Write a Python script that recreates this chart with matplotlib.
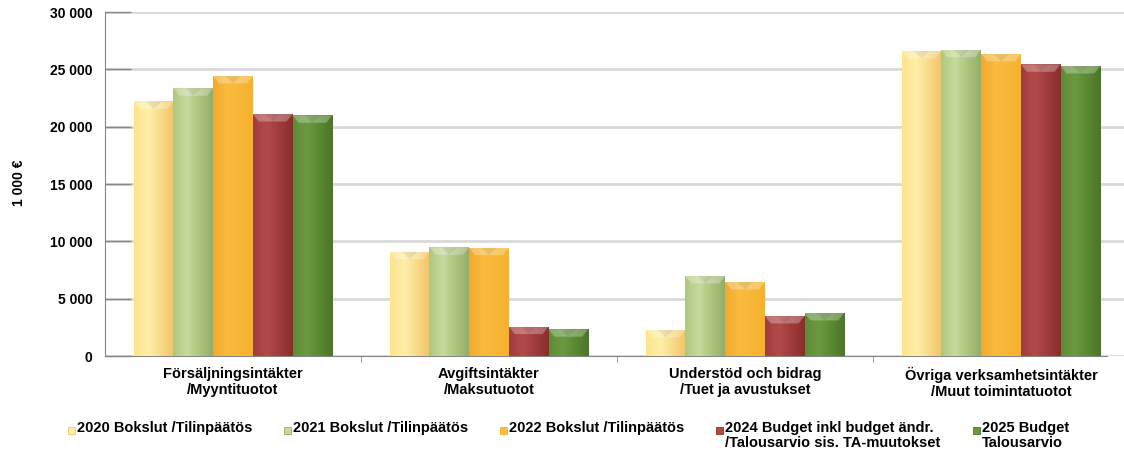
import numpy as np
import matplotlib.pyplot as plt
from matplotlib.patches import Rectangle, Polygon
from matplotlib.colors import LinearSegmentedColormap

plt.rcParams['font.family'] = ['Liberation Sans', 'DejaVu Sans']
plt.rcParams['font.weight'] = 'bold'

categories = ["Försäljningsintäkter\n/Myyntituotot",
              "Avgiftsintäkter\n/Maksutuotot",
              "Understöd och bidrag\n/Tuet ja avustukset",
              "Övriga verksamhetsintäkter\n/Muut toimintatuotot"]
series = ["2020 Bokslut /Tilinpäätös",
          "2021 Bokslut /Tilinpäätös",
          "2022 Bokslut /Tilinpäätös",
          "2024 Budget inkl budget ändr.\n/Talousarvio sis. TA-muutokset",
          "2025 Budget\nTalousarvio"]
v2020 = [22200, 9100, 2270, 26600]
v2021 = [23350, 9480, 6980, 26700]
v2022 = [24420, 9450, 6450, 26340]
v2024 = [21100, 2560, 3490, 25440]
v2025 = [20990, 2330, 3750, 25290]
values = [v2020, v2021, v2022, v2024, v2025]

# left / light / right colours of each bar gradient
shades = [("#FDE38C", "#FEF0A8", "#F3C46A"),
          ("#AFC87E", "#C6DA9C", "#93AE66"),
          ("#F2A831", "#F9BC3E", "#F7B12E"),
          ("#A23C3B", "#B24A48", "#8A2D2D"),
          ("#5E8C37", "#6A9A40", "#4A7626")]

W, H = 1124, 455
fig = plt.figure(figsize=(W / 100, H / 100), dpi=100)
ax = fig.add_axes([105 / W, 1 - 356 / H, (W - 105) / W, (356 - 12) / H])

x = np.arange(len(categories))
bw = 0.155
cap = 650
for i, vals in enumerate(values):
    left, mid, right = shades[i]
    cmap = LinearSegmentedColormap.from_list("g%d" % i, [(0, left), (0.35, mid), (1, right)])
    img = cmap(np.linspace(0, 1, 64))[None, :, :]
    bars = ax.bar(x + (i - 2) * bw, vals, bw, facecolor=mid, edgecolor='none', zorder=2)
    for rect in bars:
        x0 = rect.get_x()
        w = rect.get_width()
        h = rect.get_height()
        im = ax.imshow(img, extent=[x0, x0 + w, 0, h], aspect='auto', zorder=3,
                       interpolation='bicubic')
        im.set_clip_path(rect)
        c = min(cap, h * 0.5)
        ax.add_patch(Polygon([(x0, h), (x0 + w, h), (x0 + w * 0.85, h - c), (x0 + w * 0.15, h - c)],
                             closed=True, facecolor='white', alpha=0.28, edgecolor='none', zorder=4))
        ax.add_patch(Polygon([(x0 + w * 0.3, h), (x0 + w * 0.7, h), (x0 + w * 0.5, h - c)],
                             closed=True, facecolor='black', alpha=0.07, edgecolor='none', zorder=4))

ax.set_xlim(-0.5, -0.5 + (W - 105) / 256)
ax.set_ylim(0, 30000)
ax.set_yticks(np.arange(0, 30001, 5000))
ax.set_yticklabels([f"{v:,}".replace(",", " ") for v in range(0, 30001, 5000)])
ax.yaxis.grid(True, color='#D9D9D9', lw=2)
ax.set_axisbelow(True)

ax.set_xticks(x)
ax.set_xticklabels(categories, linespacing=1.15)
ax.set_xticks([0.5, 1.5, 2.5], minor=True)
ax.tick_params(axis='x', which='major', length=0, pad=8, labelsize=10.5)
ax.tick_params(axis='x', which='minor', length=4, color='#868686', direction='out')
ax.tick_params(axis='y', direction='in', length=19, color='#868686', width=1, pad=9, labelsize=10)

for s in ['top', 'right']:
    ax.spines[s].set_visible(False)
ax.spines['left'].set_color('#868686')
ax.spines['bottom'].set_color('#868686')
ax.spines['bottom'].set_bounds(-0.5, -0.5 + (1107 - 105) / 256)

fig.text(19 / W, 1 - 183 / H, "1 000 €", rotation=90, ha='center', va='center', fontsize=10)

# legend laid out along the bottom
leg_x = [68, 284, 500, 716, 973]
for i, name in enumerate(series):
    fig.patches.append(Rectangle((leg_x[i] / W, 1 - 434 / H), 7 / W, 7 / H,
                                 transform=fig.transFigure, facecolor=shades[i][1],
                                 edgecolor=shades[i][2], lw=0.6))
    fig.text((leg_x[i] + 9) / W, 1 - 421 / H, name, ha='left', va='top', fontsize=10.5,
             linespacing=1.05)

fig.savefig("out.png", dpi=100)
